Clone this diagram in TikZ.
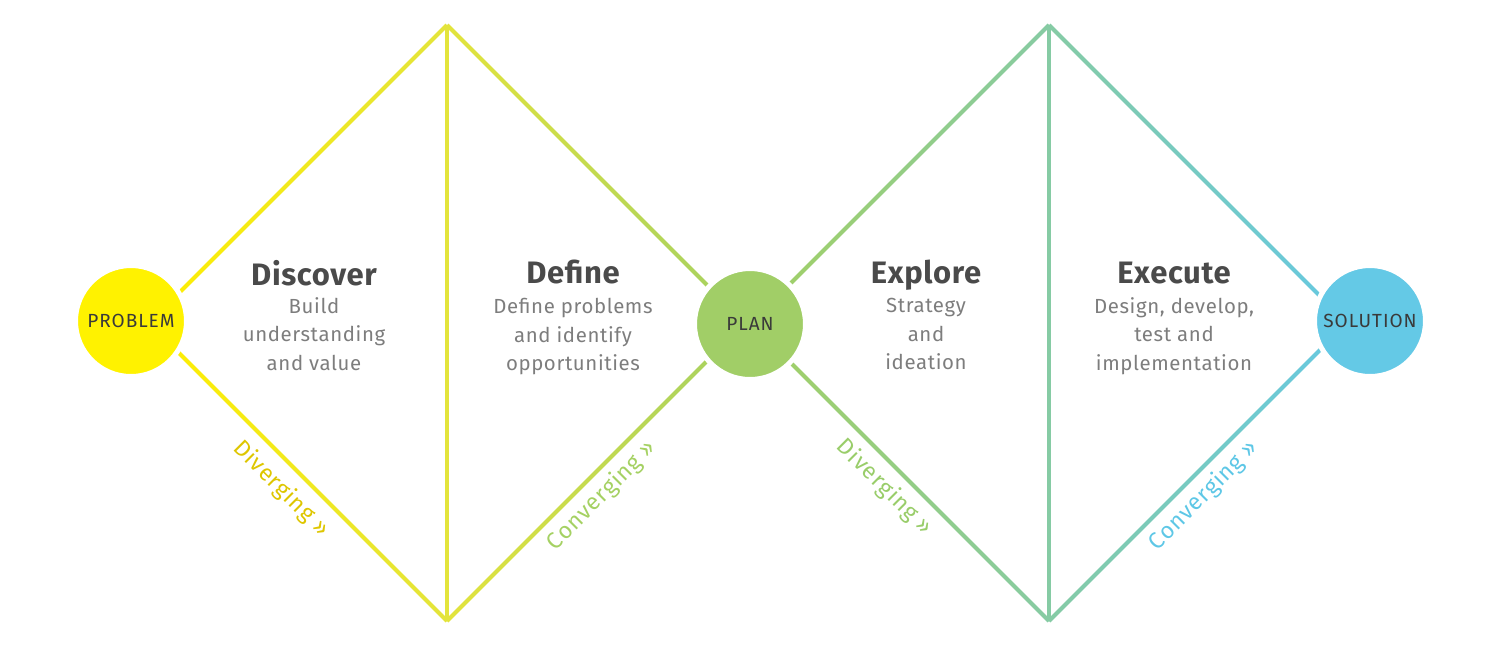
\documentclass[tikz,border=0pt]{standalone}
\usepackage{fontspec}
\setmainfont{Fira Sans}
\newfontfamily\notefont[LetterSpace=3]{Fira Sans}
\newfontfamily\hubfont[LetterSpace=5]{Fira Sans}
\newfontfamily\wayfont[LetterSpace=4]{Fira Sans}
\newfontfamily\stagefont[LetterSpace=2]{Fira Sans}
\usetikzlibrary{calc}
\definecolor{c0}{HTML}{FFEE00}
\definecolor{c1}{HTML}{E3E43C}
\definecolor{c2}{HTML}{A3D063}
\definecolor{c3}{HTML}{86CBA4}
\definecolor{c4}{HTML}{65C9E3}
\definecolor{problemfill}{HTML}{FFF200}
\definecolor{planfill}{HTML}{A1CE67}
\definecolor{solutionfill}{HTML}{64C9E6}
\definecolor{titlegray}{HTML}{4A4A4A}
\definecolor{notegray}{HTML}{7D7D7D}
\definecolor{hubtext}{HTML}{3A3A3A}
\definecolor{divyellow}{HTML}{DEC600}
\definecolor{convgreen}{HTML}{A5D163}
\definecolor{divgreen}{HTML}{99CD6A}
\definecolor{convblue}{HTML}{5EC7E6}
\tikzset{
  stage/.style={anchor=base, font=\stagefont\bfseries\fontsize{15.5}{18}\selectfont, text=titlegray},
  note/.style={align=center, font=\notefont\fontsize{10.2}{14.25}\selectfont, text=notegray},
  hub/.style={circle, minimum size=55.5pt, inner sep=0pt, draw=white, line width=2.5pt, font=\hubfont\fontsize{9.5}{11}\selectfont, text=hubtext},
  way/.style={sloped, inner sep=0pt, font=\wayfont\fontsize{11.5}{13}\selectfont},
  spine/.style={line width=2pt},
}
% edge whose colour runs from left to right
\newcommand{\fadeedge}[4]{%
  \shade[left color=#3, right color=#4] ($(#1)!1pt!90:(#2)$) -- ($(#2)!1pt!-90:(#1)$) -- ($(#2)!1pt!90:(#1)$) -- ($(#1)!1pt!-90:(#2)$) -- cycle;}

\begin{document}
\begin{tikzpicture}[x=0.5pt,y=-0.5pt]
\useasboundingbox (0,0) rectangle (1500,650);
\coordinate (L1) at (149,323);
\coordinate (T1) at (447,25);
\coordinate (B1) at (447,621);
\coordinate (R1) at (745,323);
\coordinate (L2) at (751,323);
\coordinate (T2) at (1049,25);
\coordinate (B2) at (1049,621);
\coordinate (R2) at (1347,323);
% first diamond
\fadeedge{L1}{T1}{c0}{c1}
\fadeedge{L1}{B1}{c0}{c1}
\fadeedge{T1}{R1}{c1}{c2}
\fadeedge{B1}{R1}{c1}{c2}
\draw[spine,c1] (T1) -- (B1);
% second diamond
\fadeedge{L2}{T2}{c2}{c3}
\fadeedge{L2}{B2}{c2}{c3}
\fadeedge{T2}{R2}{c3}{c4}
\fadeedge{B2}{R2}{c3}{c4}
\draw[spine,c3] (T2) -- (B2);
% edge labels
\path (L1) -- node[way, below=6pt, text=divyellow] {Diverging »} (B1);
\path (B1) -- node[way, pos=0.47, below=4.5pt, text=convgreen] {Converging »} (R1);
\path (L2) -- node[way, below=5pt, text=divgreen] {Diverging »} (B2);
\path (B2) -- node[way, pos=0.47, below=4.5pt, text=convblue] {Converging »} (R2);
% circles
\node[hub, fill=problemfill] (problem) at (131,321) {PROBLEM};
\node[hub, fill=planfill] (plan) at (750,324) {PLAN};
\node[hub, fill=solutionfill] (solution) at (1370,321) {SOLUTION};
% stages
\node[stage] (discover) at (314,285) {Discover};
\node[note] (discovernote) at (314,334) {Build\\understanding\\and value};
\node[stage] (define) at (573,283) {Define};
\node[note] (definenote) at (573,337) {Define problems\\and identify\\opportunities};
\node[stage] (explore) at (926,283) {Explore};
\node[note] (explorenote) at (926,334) {Strategy\\and\\ideation};
\node[stage] (execute) at (1174,283) {Execute};
\node[note] (executenote) at (1174,336) {Design, develop,\\test and\\implementation};
\end{tikzpicture}
\end{document}
